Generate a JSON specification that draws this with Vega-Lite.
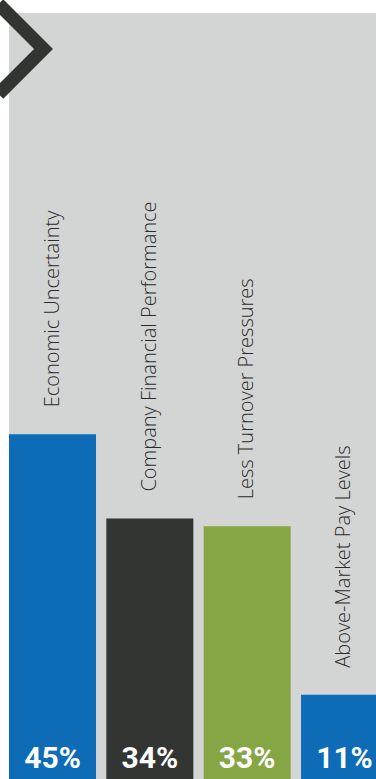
{
  "$schema": "https://vega.github.io/schema/vega-lite/v6.json",
  "width": 367,
  "height": 766,
  "autosize": {"type": "none"},
  "padding": {"left": 9, "top": 13, "right": 0, "bottom": 0},
  "background": "#ffffff",
  "view": {"fill": "#d3d4d4", "stroke": null},
  "data": {
    "values": [
      {"factor": "Economic Uncertainty", "share": 0.45},
      {"factor": "Company Financial Performance", "share": 0.34},
      {"factor": "Less Turnover Pressures", "share": 0.33},
      {"factor": "Above-Market Pay Levels", "share": 0.11}
    ]
  },
  "encoding": {
    "x": {
      "field": "factor",
      "type": "nominal",
      "sort": null,
      "axis": null,
      "scale": {"range": [0, 379], "paddingInner": 0.106, "paddingOuter": 0}
    },
    "y": {
      "field": "share",
      "type": "quantitative",
      "axis": null,
      "scale": {"domain": [0, 1], "nice": false, "zero": true}
    }
  },
  "layer": [
    {
      "mark": {"type": "bar", "clip": true},
      "encoding": {
        "color": {
          "field": "factor",
          "type": "nominal",
          "legend": null,
          "scale": {
            "domain": ["Economic Uncertainty", "Company Financial Performance", "Less Turnover Pressures", "Above-Market Pay Levels"],
            "range": ["#0e6cb6", "#333533", "#86a645", "#0e6cb6"]
          }
        }
      }
    },
    {
      "mark": {
        "type": "text",
        "angle": 270,
        "align": "left",
        "baseline": "middle",
        "dx": 27,
        "font": "Open Sans",
        "fontWeight": 300,
        "fontSize": 20,
        "color": "#2b2b2b"
      },
      "encoding": {"text": {"field": "factor", "type": "nominal"}}
    },
    {
      "mark": {
        "type": "text",
        "align": "center",
        "baseline": "alphabetic",
        "dy": -11,
        "font": "Roboto",
        "fontWeight": "bold",
        "fontSize": 30,
        "color": "#ffffff"
      },
      "encoding": {
        "y": {"datum": 0, "type": "quantitative"},
        "text": {"field": "share", "type": "quantitative", "format": ".0%"}
      }
    },
    {
      "transform": [{"filter": "datum.factor === 'Economic Uncertainty'"}],
      "mark": {
        "type": "point",
        "shape": "M-1.2,-1L-0.2,0L-1.2,1",
        "size": 8100,
        "filled": false,
        "color": "#333533",
        "strokeWidth": 13.4,
        "strokeJoin": "miter",
        "opacity": 1
      },
      "encoding": {
        "y": {"datum": 0.953, "type": "quantitative"}
      }
    }
  ]
}
